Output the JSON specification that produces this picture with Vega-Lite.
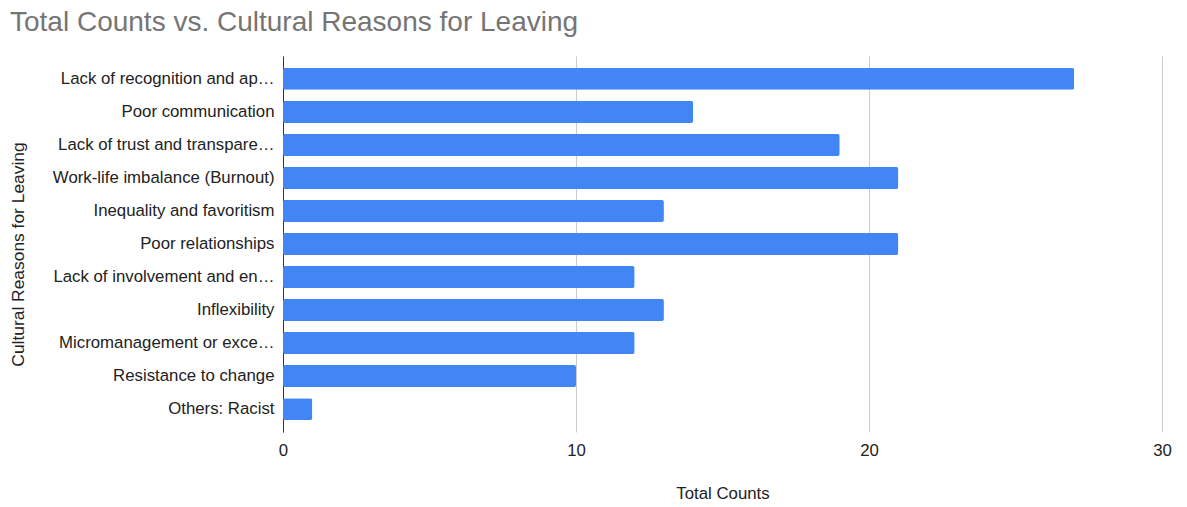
{
  "$schema": "https://vega.github.io/schema/vega-lite/v6.json",
  "autosize": {"type": "none"},
  "padding": {"left": 283, "top": 56, "right": 25, "bottom": 75},
  "width": 879,
  "height": 376,
  "background": "white",
  "title": {
    "text": "Total Counts vs. Cultural Reasons for Leaving",
    "anchor": "start",
    "frame": "group",
    "dx": -273,
    "offset": 19,
    "font": "Liberation Sans",
    "fontSize": 28,
    "fontWeight": "normal",
    "color": "#757575"
  },
  "data": {
    "values": [
      {"reason": "Lack of recognition and ap…", "count": 27},
      {"reason": "Poor communication", "count": 14},
      {"reason": "Lack of trust and transpare…", "count": 19},
      {"reason": "Work-life imbalance (Burnout)", "count": 21},
      {"reason": "Inequality and favoritism", "count": 13},
      {"reason": "Poor relationships", "count": 21},
      {"reason": "Lack of involvement and en…", "count": 12},
      {"reason": "Inflexibility", "count": 13},
      {"reason": "Micromanagement or exce…", "count": 12},
      {"reason": "Resistance to change", "count": 10},
      {"reason": "Others: Racist", "count": 1}
    ]
  },
  "mark": {"type": "bar", "color": "#4285F4", "cornerRadius": 2},
  "encoding": {
    "y": {
      "field": "reason",
      "type": "nominal",
      "sort": null,
      "scale": {"paddingInner": 0.335, "paddingOuter": 0.36},
      "axis": {
        "title": "Cultural Reasons for Leaving",
        "titleFont": "Liberation Sans",
        "titleFontSize": 17.4,
        "titleFontWeight": "normal",
        "titleColor": "#222222",
        "titleX": -265,
        "titleY": 198,
        "titleAngle": -90,
        "titleBaseline": "middle",
        "labelFont": "Liberation Sans",
        "labelFontSize": 16.8,
        "labelColor": "#222222",
        "labelPadding": 9,
        "labelLimit": 300,
        "ticks": false,
        "domainColor": "#333333",
        "domainWidth": 1,
        "grid": false
      }
    },
    "x": {
      "field": "count",
      "type": "quantitative",
      "scale": {"domain": [0, 30], "nice": false},
      "axis": {
        "title": "Total Counts",
        "titleFont": "Liberation Sans",
        "titleFontSize": 16.8,
        "titleFontWeight": "normal",
        "titleColor": "#222222",
        "titleY": 61,
        "titleBaseline": "middle",
        "values": [0, 10, 20, 30],
        "labelFont": "Liberation Sans",
        "labelFontSize": 16.8,
        "labelColor": "#222222",
        "labelPadding": 10,
        "labelFlush": false,
        "ticks": false,
        "domain": false,
        "grid": true,
        "gridColor": "#cccccc",
        "gridWidth": 1
      }
    }
  },
  "config": {"view": {"stroke": null}}
}
